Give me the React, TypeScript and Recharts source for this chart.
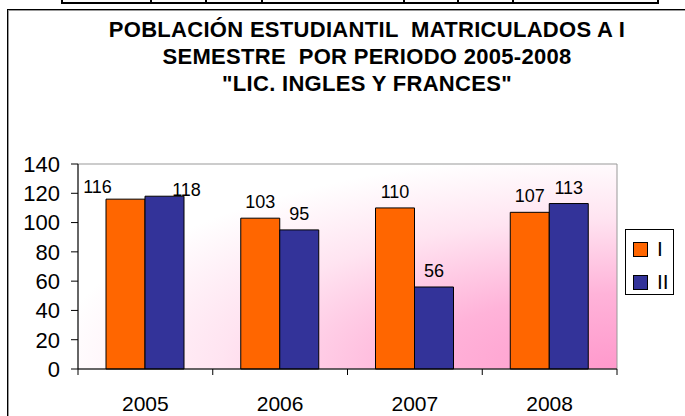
import React from "react";
import { BarChart, Bar, XAxis, YAxis, Legend, LabelList, ReferenceArea } from "recharts";

const YEARS = ["2005", "2006", "2007", "2008"];
const SEM_I = [116, 103, 110, 107];
const SEM_II = [118, 95, 56, 113];
const Y_TICKS = [0, 20, 40, 60, 80, 100, 120, 140];
const SERIES = [
  { key: "I", name: "I", color: "#FF6600" },
  { key: "II", name: "II", color: "#333399" },
];
const TITLE_LINES = [
  "POBLACIÓN ESTUDIANTIL  MATRICULADOS A I",
  "SEMESTRE  POR PERIODO 2005-2008",
  "\"LIC. INGLES Y FRANCES\"",
];
// cells of the spreadsheet row peeking in at the top
const STRIP_CELLS = [87, 53, 54, 140, 52, 53, 143];

const FONT = "Arial, 'Liberation Sans', sans-serif";
const PLOT_W = 539;
const BAND = PLOT_W / YEARS.length;

const data = YEARS.map((y, i) => ({ year: y, I: SEM_I[i], II: SEM_II[i] }));

// Excel nudged the 2005 labels apart so they don't overlap
const labelShift = (series: string, index: number) => {
  if (index !== 0) return { dx: 0, dy: -10 };
  return series === "I" ? { dx: -28, dy: -6 } : { dx: 22, dy: 0 };
};

const makeLabel = (series: string) => (props: any) => {
  const { x, y, width, value, index } = props;
  const s = labelShift(series, index);
  return (
    <text
      x={x + width / 2 + s.dx}
      y={y + s.dy}
      textAnchor="middle"
      fontSize={18}
      fontFamily={FONT}
      fill="#000"
    >
      {value}
    </text>
  );
};

const YearTick = (props: any) => {
  const { x, y, payload, index } = props;
  const left = x - BAND / 2;
  return (
    <g>
      <line x1={left} y1={y} x2={left} y2={y + 6} stroke="#000" />
      {index === YEARS.length - 1 && (
        <line x1={x + BAND / 2} y1={y} x2={x + BAND / 2} y2={y + 6} stroke="#000" />
      )}
      <text x={x} y={y + 42} textAnchor="middle" fontSize={21} fontFamily={FONT} fill="#000">
        {payload.value}
      </text>
    </g>
  );
};

const LegendBox = () => (
  <div
    style={{
      width: 47,
      height: 64,
      border: "1px solid #000",
      background: "#fff",
      fontFamily: FONT,
      fontSize: 21,
      boxSizing: "content-box",
    }}
  >
    {SERIES.map((s, i) => (
      <div
        key={s.key}
        style={{ position: "absolute", left: 8, top: 11 + i * 33, display: "flex", alignItems: "center" }}
      >
        <span
          style={{
            display: "inline-block",
            width: 13,
            height: 13,
            background: s.color,
            border: "1px solid #000",
            marginRight: 9,
          }}
        />
        <span style={{ lineHeight: "18px" }}>{s.name}</span>
      </div>
    ))}
  </div>
);

export default function App() {
  return (
    <div
      style={{
        position: "absolute",
        left: 0,
        top: 0,
        width: 685,
        height: 416,
        overflow: "hidden",
        background: "#fff",
        fontFamily: FONT,
      }}
    >
      <div style={{ position: "absolute", left: 61, top: -2, display: "flex", borderBottom: "2px solid #000" }}>
        {STRIP_CELLS.map((w, i) => (
          <div
            key={i}
            style={{
              width: w,
              height: 4,
              borderLeft: "2px solid #000",
              borderRight: i === STRIP_CELLS.length - 1 ? "2px solid #000" : "none",
            }}
          />
        ))}
      </div>
      <div
        style={{
          position: "absolute",
          left: 7,
          top: 9,
          width: 760,
          height: 480,
          border: "1px solid #000",
          boxShadow: "inset 1px 1px 0 #999",
        }}
      />
      {TITLE_LINES.map((t, i) => (
        <div
          key={i}
          style={{
            position: "absolute",
            left: 0,
            width: 734,
            top: 17 + i * 27,
            textAlign: "center",
            fontWeight: "bold",
            fontSize: 22,
            letterSpacing: 0.3,
            lineHeight: "26px",
            whiteSpace: "pre",
            color: "#000",
          }}
        >
          {t}
        </div>
      ))}
      <BarChart
        width={685}
        height={416}
        data={data}
        margin={{ top: 164, right: 68, bottom: 17, left: 0 }}
        barGap={0}
        barSize={39}
        style={{ position: "absolute", left: 0, top: 0 }}
      >
        <defs>
          <radialGradient id="plotBg" cx="1" cy="1" r="1.05" gradientUnits="objectBoundingBox">
            <stop offset="0" stopColor="#FF99CC" />
            <stop offset="0.35" stopColor="#FFB3D9" />
            <stop offset="0.7" stopColor="#FFE4F1" />
            <stop offset="1" stopColor="#FFFFFF" />
          </radialGradient>
        </defs>
        <ReferenceArea y1={0} y2={140} fill="url(#plotBg)" fillOpacity={1} stroke="#999" strokeWidth={1} />
        <XAxis
          dataKey="year"
          height={30}
          tick={<YearTick />}
          tickLine={false}
          tickSize={0}
          tickMargin={0}
          axisLine={{ stroke: "#000" }}
          interval={0}
        />
        <YAxis
          domain={[0, 140]}
          ticks={Y_TICKS}
          width={78}
          tickSize={7}
          tickMargin={11}
          tick={{ fontSize: 22, fill: "#000", fontFamily: FONT }}
          tickLine={{ stroke: "#000" }}
          axisLine={{ stroke: "#000" }}
          interval={0}
        />
        <Legend
          layout="horizontal"
          verticalAlign="middle"
          align="center"
          content={<LegendBox />}
          wrapperStyle={{ left: 625, top: 229, width: 49, height: 66 }}
        />
        {SERIES.map((s) => (
          <Bar
            key={s.key}
            dataKey={s.key}
            name={s.name}
            fill={s.color}
            stroke="#000"
            strokeWidth={1}
            isAnimationActive={false}
          >
            <LabelList dataKey={s.key} content={makeLabel(s.key)} />
          </Bar>
        ))}
      </BarChart>
    </div>
  );
}
